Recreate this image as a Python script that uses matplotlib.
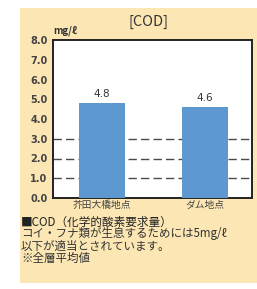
import matplotlib
matplotlib.use("Agg")
import matplotlib.pyplot as plt
from matplotlib.patches import Rectangle

plt.rcParams['font.family'] = ['Noto Sans CJK JP', 'DejaVu Sans']

sites = ["芥田大橋地点", "ダム地点"]
cod = [4.8, 4.6]
yticks = [0.0, 1.0, 2.0, 3.0, 4.0, 5.0, 6.0, 7.0, 8.0]
grid_levels = [1.0, 2.0, 3.0]
notes = ["コイ・フナ類が生息するためには5mg/ℓ",
         "以下が適当とされています。",
         "※全層平均値"]

W, H = 257, 289
fig = plt.figure(figsize=(W / 100, H / 100), dpi=100)
fig.patch.set_facecolor("white")

# beige panel behind everything
fig.patches.append(Rectangle((20 / W, 1 - 283 / H), (W - 20) / W, (283 - 8) / H,
                             transform=fig.transFigure, facecolor="#fbe6b4",
                             edgecolor="none", zorder=-10))

ax = fig.add_axes([53 / W, 1 - 198 / H, (252 - 53) / W, (198 - 40) / H])
ax.set_zorder(5)
ax.set_facecolor("white")
x = range(len(sites))
ax.bar(x, cod, width=0.44, color="#5d99d0", zorder=3)
for xi, v in zip(x, cod):
    ax.text(xi, v + 0.22, f"{v:.1f}", ha="center", va="bottom",
            fontsize=7.5, color="#333333", family="DejaVu Sans")
for g in grid_levels:
    ax.axhline(g, color="#4a4a4a", lw=1.0, ls=(0, (6, 3)), zorder=1)

ax.set_xlim(-0.476, 1.456)
ax.set_ylim(0, 8)
ax.set_yticks(yticks)
ax.set_yticklabels([f"{t:.1f}" for t in yticks], fontsize=7,
                   color="#444444", fontweight="bold", family="DejaVu Sans")
ax.set_xticks(list(x))
ax.set_xticklabels(sites, fontsize=7, color="#444444")
ax.tick_params(axis="y", length=0, pad=4)
ax.tick_params(axis="x", length=0, pad=1.5)
for s in ax.spines.values():
    s.set_linewidth(1.4)
    s.set_color("#222222")

fig.text(148 / W, 1 - 22 / H, "[COD]", ha="center", va="center",
         fontsize=10.5, color="#333333")
fig.text(53 / W, 1 - 31 / H, "mg/ℓ", ha="left", va="center", fontsize=7,
         style="italic", fontweight="bold", color="#333333")

fig.text(21 / W, 1 - 222 / H, "■COD（化学的酸素要求量）", ha="left", va="center",
         fontsize=8.4, color="#222222")
for i, line in enumerate(notes):
    fig.text(21 / W, 1 - (234 + 12 * i) / H, line, ha="left", va="center",
             fontsize=8.3, color="#333333")

fig.savefig("out.png", dpi=100, facecolor="white")
